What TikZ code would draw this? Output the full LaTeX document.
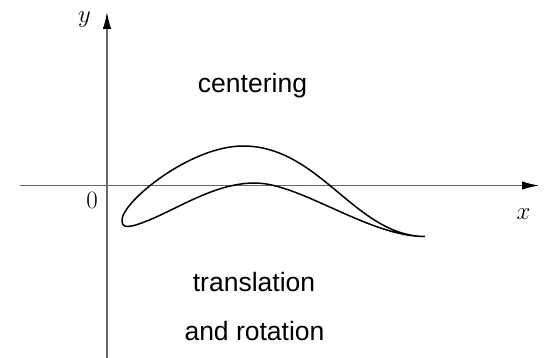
\documentclass[tikz,border=0pt]{standalone}
\usepackage{fontspec}
\setmainfont{Liberation Sans}
\usetikzlibrary{arrows.meta}

\begin{document}
\begin{tikzpicture}[
  x=1pt, y=-1pt,
  axis/.style={draw=black!60, line width=1.4pt,
               -{Latex[length=17pt, width=8.5pt, black]}},
  blade/.style={draw=black, line width=1.5pt, line join=round},
  lbl/.style={font=\fontsize{26.5}{30}\selectfont, inner sep=0pt, anchor=base},
  mlbl/.style={font=\fontsize{25.5}{30}\selectfont, inner sep=0pt, anchor=base}
]
  \useasboundingbox (0,0) rectangle (546,358);
  % axes
  \coordinate (xs) at (20,185.5);
  \coordinate (xe) at (539,185.5);
  \coordinate (ys) at (107,358);
  \coordinate (ye) at (107,12);
  \draw[axis] (xs) -- (xe);
  \draw[axis] (ys) -- (ye);
  \node[mlbl] (ylbl) at (84.5,22.7) {$y$};
  \node[mlbl] (xlbl) at (523.5,219.3) {$x$};
  \node[mlbl] (orig) at (92,209) {$0$};
  % profile
  \coordinate (tipr) at (425,236.5);
  \coordinate (topu) at (243,146);
  \coordinate (tipl) at (122,220);
  \coordinate (botl) at (134,225.5);
  \coordinate (topl) at (255,183);
  \draw[blade] (tipr) .. controls (355,236) and (320,146) .. (topu)
    .. controls (190,146) and (122,202) .. (tipl)
    .. controls (122,228) and (127,227) .. (botl)
    .. controls (170,215) and (210,183) .. (topl)
    .. controls (300,183) and (370,237) .. (tipr);
  % texts
  \node[lbl] (cent) at (252.5,93) {centering};
  \node[lbl] (trans) at (254,291.7) {translation};
  \node[lbl] (rot) at (254.5,340) {and rotation};
\end{tikzpicture}
\end{document}
